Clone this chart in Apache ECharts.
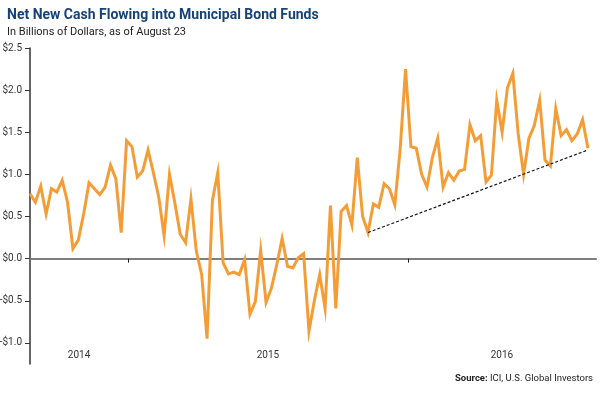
<!DOCTYPE html>
<html><head><meta charset="utf-8">
<script src="https://cdn.jsdelivr.net/npm/echarts@6/dist/echarts.min.js"></script>
<style>html,body{margin:0;padding:0;background:#fff}#c{width:600px;height:393px}</style>
</head><body><div id="c"></div>
<script>
// weekly observations, first week and values (billions of dollars)
const firstWeek = [2014, 7, 26];
const flows = [0.77,0.67,0.86,0.53,0.83,0.79,0.93,0.67,0.12,0.22,
0.53,0.90,0.83,0.76,0.85,1.11,0.95,0.31,1.40,1.33,
0.97,1.04,1.29,1.02,0.73,0.27,1.00,0.66,0.29,0.19,
0.71,0.09,-0.19,-0.95,0.69,1.02,-0.05,-0.18,-0.16,-0.19,
-0.01,-0.66,-0.51,0.10,-0.52,-0.35,-0.07,0.24,-0.09,-0.11,
0.01,0.06,-0.86,-0.50,-0.19,-0.59,0.63,-0.59,0.56,0.63,
0.40,1.20,0.50,0.31,0.65,0.61,0.89,0.83,0.64,1.30,
2.25,1.33,1.31,1.00,0.85,1.20,1.43,0.85,1.02,0.93,
1.04,1.06,1.59,1.40,1.46,0.91,0.99,1.88,1.50,2.03,
2.20,1.48,1.00,1.43,1.58,1.88,1.17,1.10,1.78,1.46,
1.53,1.40,1.48,1.65,1.31];
// dotted trend line: week indexes and values
const trendWeeks = [63, 104];
const trendValues = [0.31, 1.29];
const yearLabels = ['2014', '2015', '2016'];
const yTicks = [-1.0, -0.5, 0, 0.5, 1.0, 1.5, 2.0, 2.5];

const WEEK = 7 * 864e5;
const t0 = Date.UTC(firstWeek[0], firstWeek[1], firstWeek[2]);
const weeks = flows.map((_, i) => t0 + i * WEEK);
const xMin = weeks[0];
const xMax = weeks[weeks.length - 1] + 1.5 * WEEK;
const yearStarts = yearLabels.map(y => Date.UTC(+y, 0, 1));
const tickPos = yearStarts.filter(t => t > xMin && t < xMax);
const labelPos = yearLabels.map((y, k) => {
  const a = Math.max(xMin, yearStarts[k]);
  const b = Math.min(xMax, Date.UTC(+y + 1, 0, 1));
  return (a + b) / 2;
});
const labelFor = v => {
  let best = 0;
  labelPos.forEach((p, k) => { if (Math.abs(p - v) < Math.abs(labelPos[best] - v)) best = k; });
  return yearLabels[best];
};

const chart = echarts.init(document.getElementById('c'), null, {renderer: 'canvas'});
chart.setOption({
  animation: false,
  backgroundColor: '#fff',
  title: [{
    text: 'Net New Cash Flowing into Municipal Bond Funds',
    subtext: 'In Billions of Dollars, as of August 23',
    left: 2, top: 3, itemGap: 5,
    textStyle: {fontFamily: 'Roboto', fontWeight: 'bold', fontSize: 14, color: '#15427a'},
    subtextStyle: {fontFamily: 'Roboto', fontSize: 11, color: '#222'}
  }, {
    text: '{b|Source:} ICI, U.S. Global Investors',
    right: 2, bottom: 4,
    textStyle: {fontFamily: 'Roboto', fontSize: 9.5, fontWeight: 'normal', color: '#222',
      rich: {b: {fontFamily: 'Roboto', fontSize: 9.5, fontWeight: 'bold', color: '#222'}}}
  }],
  grid: {left: 30, right: 4, top: 48, bottom: 29, containLabel: false, outerBoundsMode: 'none'},
  xAxis: [{
    type: 'value', min: xMin, max: xMax,
    axisLine: {show: true, onZero: true, lineStyle: {color: '#7f7f7f', width: 2}},
    axisTick: {show: true, length: 4, customValues: tickPos, lineStyle: {color: '#222', width: 1}},
    axisLabel: {show: false},
    splitLine: {show: false}
  }, {
    type: 'value', min: xMin, max: xMax, position: 'bottom',
    axisLine: {show: false, onZero: false},
    axisTick: {show: false},
    axisLabel: {show: true, customValues: labelPos, formatter: labelFor, margin: -14,
      fontFamily: 'Roboto', fontSize: 10, color: '#333'},
    splitLine: {show: false}
  }],
  yAxis: {
    type: 'value', min: -1.25, max: 2.5,
    axisLine: {show: true, onZero: false, lineStyle: {color: '#333', width: 1.5}},
    axisTick: {show: true, length: 5, customValues: yTicks, lineStyle: {color: '#333', width: 1}},
    axisLabel: {customValues: yTicks, margin: 8, fontFamily: 'Roboto', fontSize: 10, color: '#333',
      formatter: v => (v < 0 ? '-$' : '$') + Math.abs(v).toFixed(1)},
    splitLine: {show: false}
  },
  series: [{
    type: 'line', xAxisIndex: 0,
    data: weeks.map((t, i) => [t, flows[i]]),
    symbol: 'none',
    lineStyle: {color: '#f49d37', width: 3, join: 'miter'},
    z: 3
  }, {
    type: 'line', xAxisIndex: 0,
    data: trendWeeks.map((w, k) => [weeks[w], trendValues[k]]),
    symbol: 'none',
    lineStyle: {color: '#111', width: 1.2, type: [3, 2]},
    z: 4
  }]
});
</script></body></html>
